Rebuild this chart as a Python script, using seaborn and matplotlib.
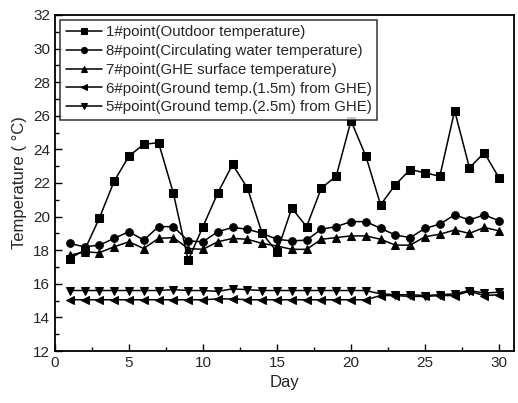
import numpy as np
import pandas as pd
import matplotlib
matplotlib.use("Agg")
import matplotlib.pyplot as plt
import seaborn as sns
from matplotlib.ticker import MultipleLocator

days = list(range(1, 31))
outdoor = [17.5, 18.0, 19.9, 22.1, 23.6, 24.3, 24.4, 21.4, 17.4, 19.4,
           21.4, 23.1, 21.7, 19.0, 17.9, 20.5, 19.4, 21.7, 22.4, 25.7,
           23.6, 20.7, 21.9, 22.8, 22.6, 22.4, 26.3, 22.9, 23.8, 22.3]
water = [18.4, 18.2, 18.3, 18.7, 19.1, 18.6, 19.4, 19.4, 18.55, 18.5,
         19.1, 19.35, 19.25, 19.0, 18.65, 18.55, 18.6, 19.25, 19.4, 19.7,
         19.7, 19.3, 18.9, 18.75, 19.3, 19.55, 20.1, 19.8, 20.1, 19.75]
surface = [17.7, 17.9, 17.85, 18.2, 18.5, 18.1, 18.7, 18.75, 18.1, 18.05,
           18.5, 18.7, 18.65, 18.4, 18.25, 18.05, 18.05, 18.65, 18.75, 18.85,
           18.85, 18.65, 18.3, 18.3, 18.8, 18.95, 19.2, 19.0, 19.35, 19.15]
ground15 = [15.05, 15.05, 15.05, 15.05, 15.05, 15.05, 15.05, 15.05, 15.05, 15.05,
            15.1, 15.1, 15.05, 15.05, 15.05, 15.05, 15.05, 15.05, 15.05, 15.05,
            15.05, 15.3, 15.3, 15.25, 15.25, 15.3, 15.3, 15.55, 15.3, 15.35]
ground25 = [15.6, 15.6, 15.6, 15.6, 15.6, 15.6, 15.6, 15.65, 15.6, 15.6,
            15.55, 15.7, 15.65, 15.6, 15.6, 15.6, 15.6, 15.6, 15.6, 15.6,
            15.6, 15.4, 15.35, 15.35, 15.3, 15.35, 15.4, 15.6, 15.45, 15.5]

labels = ["1#point(Outdoor temperature)",
          "8#point(Circulating water temperature)",
          "7#point(GHE surface temperature)",
          "6#point(Ground temp.(1.5m) from GHE)",
          "5#point(Ground temp.(2.5m) from GHE)"]
series = [outdoor, water, surface, ground15, ground25]
markers = ["s", "o", "^", "<", "v"]

sns.set_style("ticks")
plt.rcParams['font.family'] = ['Liberation Sans', 'DejaVu Sans']

fig = plt.figure(figsize=(5.18, 4.03), dpi=100)
ax = fig.add_axes([0.106, 0.129, 0.886, 0.834])

for lab, vals, mk in zip(labels, series, markers):
    sns.lineplot(x=days, y=vals, ax=ax, color="black", marker=mk,
                 markersize=5.5, markeredgecolor="black", markerfacecolor="black",
                 linewidth=1.1, label=lab)

ax.set_xlim(0, 31)
ax.set_ylim(12, 32)
ax.xaxis.set_major_locator(MultipleLocator(5))
ax.xaxis.set_minor_locator(MultipleLocator(2.5))
ax.yaxis.set_major_locator(MultipleLocator(2))
ax.yaxis.set_minor_locator(MultipleLocator(1))
ax.tick_params(which="both", direction="in", labelsize=11, color="black", width=1)
ax.tick_params(which="major", length=5)
ax.tick_params(which="minor", length=3)
for sp in ax.spines.values():
    sp.set_color("black")
    sp.set_linewidth(1.3)

ax.set_xlabel("Day", fontsize=12)
ax.set_ylabel("Temperature ( °C)", fontsize=12)

leg = ax.legend(loc="upper left", bbox_to_anchor=(0.012, 0.985), fontsize=10.8,
                frameon=True, fancybox=False, edgecolor="black",
                handlelength=2.4, handletextpad=0.3, borderpad=0.35,
                labelspacing=0.32, borderaxespad=0.0, markerscale=0.8)
leg.get_frame().set_linewidth(1.1)

fig.savefig("out.png", dpi=100)
